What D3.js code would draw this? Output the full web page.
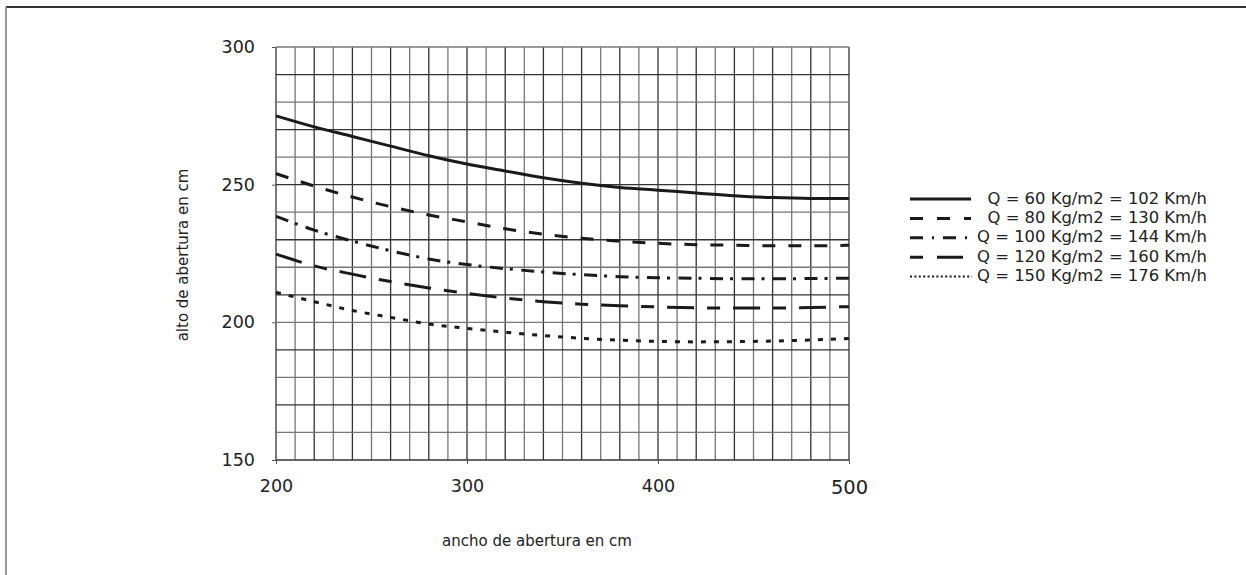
<!DOCTYPE html>
<html>
<head>
<meta charset="utf-8">
<script src="https://cdn.jsdelivr.net/npm/d3@7"></script>
<style>
body { margin: 0; background: #fff; }
text { font-family: "DejaVu Sans", Verdana, sans-serif; fill: #222; }
</style>
</head>
<body>
<div id="container"></div>
<script>
const width = 1246;
const height = 575;

// ancho de abertura (cm)
const anchos = [200, 220, 240, 260, 280, 300, 320, 340, 360, 380, 400, 420, 440, 460, 480, 500];
// alto de abertura (cm) para cada carga
const q60 = [275, 271, 267.5, 264, 260.5, 257.5, 255, 252.5, 250.5, 249, 248, 247, 246, 245.3, 245, 245];
const q80 = [254, 249.5, 245.5, 242, 239, 236.5, 234, 232, 230.5, 229.5, 228.7, 228.2, 228, 227.8, 227.8, 228];
const q100 = [238.5, 233.5, 229.5, 226, 223, 221, 219.5, 218.3, 217.3, 216.6, 216.2, 216, 215.8, 215.8, 215.9, 216];
const q120 = [224.8, 220.5, 217.5, 214.8, 212.5, 210.5, 208.8, 207.5, 206.6, 206, 205.6, 205.3, 205.2, 205.2, 205.4, 205.7];
const q150 = [210.9, 207.5, 204.3, 201.8, 199.4, 197.8, 196.4, 195.2, 194.2, 193.5, 193.1, 192.9, 193, 193.2, 193.6, 194.1];

const labels = [
    "Q = 60 Kg/m2 = 102 Km/h",
    "Q = 80 Kg/m2 = 130 Km/h",
    "Q = 100 Kg/m2 = 144 Km/h",
    "Q = 120 Kg/m2 = 160 Km/h",
    "Q = 150 Kg/m2 = 176 Km/h",
];
const xTicks = [200, 300, 400, 500];
const yTicks = [150, 200, 250, 300];

const dashes = [null, "13,13", "13,7,3,8.5", "27,13,13,13", "5,8"];
const legendDashes = [null, "13,14", "13,9,2,9", "13,14,27,20", "2,2.4"];
const legendLen = [61, 61, 58, 53, 62];

const series = [q60, q80, q100, q120, q150].map((vals, i) => ({
    label: labels[i],
    points: anchos.map((a, j) => [a, vals[j]]),
}));

const x = d3.scaleLinear().domain([200, 500]).range([276, 849]);
const y = d3.scaleLinear().domain([150, 300]).range([460, 47]);

const svg = d3.select("#container")
    .append("svg")
    .attr("width", width)
    .attr("height", height);

// frame (only top and left edges visible)
svg.append("line")
    .attr("x1", 6).attr("y1", 7).attr("x2", width).attr("y2", 7)
    .style("stroke", "#333").style("stroke-width", 2);
svg.append("line")
    .attr("x1", 6).attr("y1", 7).attr("x2", 6).attr("y2", height)
    .style("stroke", "#999").style("stroke-width", 2);

// grid
const grid = svg.append("g");
grid.selectAll("line.v")
    .data(d3.range(200, 501, 10))
    .enter()
    .append("line")
    .attr("class", "v")
    .attr("x1", (d) => x(d)).attr("x2", (d) => x(d))
    .attr("y1", y(300)).attr("y2", y(150))
    .style("stroke", (d, i) => (i % 2 ? "#777" : "#333"))
    .style("stroke-width", 1.3);
grid.selectAll("line.h")
    .data(d3.range(150, 301, 10))
    .enter()
    .append("line")
    .attr("class", "h")
    .attr("x1", x(200)).attr("x2", x(500))
    .attr("y1", (d) => y(d)).attr("y2", (d) => y(d))
    .style("stroke", (d, i) => (i % 2 ? "#777" : "#333"))
    .style("stroke-width", 1.3);

// axes
const yAxis = svg.append("g")
    .attr("transform", `translate(${x(200)},0)`)
    .call(d3.axisLeft(y).tickValues(yTicks).tickSize(4).tickPadding(17));
const xAxis = svg.append("g")
    .attr("transform", `translate(0,${y(150)})`)
    .call(d3.axisBottom(x).tickValues(xTicks).tickSize(4).tickPadding(16));
[yAxis, xAxis].forEach((g) => {
    g.select(".domain").remove();
    g.selectAll("line").style("stroke", "#555");
    g.selectAll("text")
        .style("font-family", "'DejaVu Sans', Verdana, sans-serif")
        .style("font-size", "17.5px")
        .style("fill", "#222");
});
xAxis.selectAll("text").filter((d) => d === 500).style("font-size", "19.5px");

// curves
const line = d3.line()
    .x((d) => x(d[0]))
    .y((d) => y(d[1]))
    .curve(d3.curveMonotoneX);
svg.append("g")
    .selectAll("path")
    .data(series)
    .enter()
    .append("path")
    .attr("d", (d) => line(d.points))
    .style("fill", "none")
    .style("stroke", "#1a1a1a")
    .style("stroke-width", 3)
    .style("stroke-dasharray", (d, i) => dashes[i]);

// axis titles
svg.append("text")
    .attr("x", 537)
    .attr("y", 541)
    .attr("text-anchor", "middle")
    .attr("dominant-baseline", "middle")
    .style("font-size", "15px")
    .text("ancho de abertura en cm");
svg.append("text")
    .attr("transform", "translate(183,255) rotate(-90)")
    .attr("text-anchor", "middle")
    .attr("dominant-baseline", "middle")
    .style("font-size", "15px")
    .text("alto de abertura en cm");

// legend
const legend = svg.append("g");
const rows = legend.selectAll("g")
    .data(series)
    .enter()
    .append("g")
    .attr("transform", (d, i) => `translate(0,${199 + i * 19.4})`);
rows.append("line")
    .attr("x1", 910)
    .attr("x2", (d, i) => 910 + legendLen[i])
    .style("stroke", "#1a1a1a")
    .style("stroke-width", (d, i) => (i === 4 ? 2 : 3))
    .style("stroke-dasharray", (d, i) => legendDashes[i]);
rows.append("text")
    .attr("x", 1207)
    .attr("text-anchor", "end")
    .attr("dominant-baseline", "middle")
    .style("font-size", "16.4px")
    .text((d) => d.label);
</script>
</body>
</html>
